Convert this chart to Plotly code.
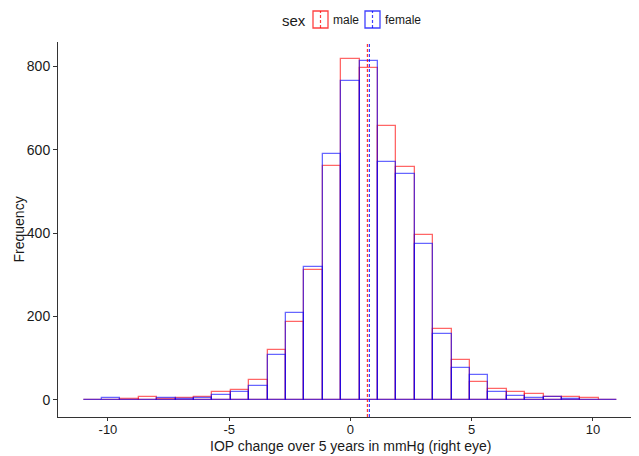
import plotly.graph_objects as go

# Histogram bins (29 bins spanning -11 .. 11)
bin_low = -11.0
bin_high = 11.0
n_bins = 29
bin_width = (bin_high - bin_low) / n_bins
bin_centers = [bin_low + (i + 0.5) * bin_width for i in range(n_bins)]

# Counts per bin
male_counts = [1, 1, 2, 6, 2, 5, 7, 19, 25, 48, 120, 186, 312, 562, 818,
               797, 658, 558, 396, 171, 95, 43, 27, 19, 14, 8, 8, 5, 1]
female_counts = [1, 4, 0, 1, 4, 2, 4, 11, 18, 34, 109, 209, 319, 591, 766,
                 813, 570, 543, 375, 158, 77, 59, 18, 10, 4, 6, 2, 1, 1]

# Group means (dashed lines)
male_mean = 0.70
female_mean = 0.78

groups = ["male", "female"]
x_ticks = [-10, -5, 0, 5, 10]
y_ticks = [0, 200, 400, 600, 800]

red = "rgba(255,0,0,0.6)"
blue = "rgba(0,0,255,0.6)"

# page body has an 8px margin; work in window pixels and convert
OFF = 8
W, H = 639 - OFF, 456 - OFF
ML, MR, MT, MB = 58 - OFF, 0, 42 - OFF, 39

fig = go.Figure()
fig.add_trace(go.Bar(
    x=bin_centers, y=male_counts, width=bin_width, name=groups[0],
    marker=dict(color="rgba(0,0,0,0)", line=dict(color=red, width=1.3)),
))
fig.add_trace(go.Bar(
    x=bin_centers, y=female_counts, width=bin_width, name=groups[1],
    marker=dict(color="rgba(0,0,0,0)", line=dict(color=blue, width=1.3)),
))

for m, c in [(male_mean, "rgba(255,0,0,0.8)"), (female_mean, "rgba(0,0,255,0.8)")]:
    fig.add_shape(type="line", xref="x", yref="paper", x0=m, x1=m, y0=0, y1=1,
                  line=dict(color=c, width=1.2, dash="3px,2px"))

# ---- custom legend (ggplot style), positions given in window pixels ----
pw = W - ML - MR
ph = H - MT - MB
def px(xp):
    return (xp - OFF - ML) / pw
def py(yp):
    return (H - MB - (yp - OFF)) / ph

fig.add_annotation(x=px(294), y=py(20), xref="paper", yref="paper", text="sex",
                   showarrow=False, font=dict(size=15, color="#1a1a1a"),
                   xanchor="center", yanchor="middle")
keys = [(313, 328, groups[0], "rgba(255,0,0,0.75)", 346),
        (365, 380, groups[1], "rgba(0,0,255,0.75)", 403)]
for x0, x1, lab, col, tx in keys:
    fig.add_shape(type="rect", xref="paper", yref="paper",
                  x0=px(x0), x1=px(x1), y0=py(28), y1=py(11),
                  line=dict(color=col, width=1.3), fillcolor="rgba(0,0,0,0)")
    xm = (x0 + x1) / 2
    fig.add_shape(type="line", xref="paper", yref="paper",
                  x0=px(xm), x1=px(xm), y0=py(28), y1=py(11),
                  line=dict(color=col, width=1.2, dash="3px,2px"))
    fig.add_annotation(x=px(tx), y=py(20), xref="paper", yref="paper", text=lab,
                       showarrow=False, font=dict(size=12, color="#1a1a1a"),
                       xanchor="center", yanchor="middle")

# axis titles
fig.add_annotation(x=px(350), y=py(446), xref="paper", yref="paper",
                   text="IOP change over 5 years in mmHg (right eye)", showarrow=False,
                   font=dict(size=14, color="#1a1a1a"), xanchor="center", yanchor="middle")
fig.add_annotation(x=px(18), y=0.5, xref="paper", yref="paper", text="Frequency",
                   textangle=-90, showarrow=False, font=dict(size=14, color="#1a1a1a"),
                   xanchor="center", yanchor="middle")

fig.update_layout(
    width=W, height=H,
    margin=dict(l=ML, r=MR, t=MT, b=MB, autoexpand=False),
    paper_bgcolor="white", plot_bgcolor="white",
    barmode="overlay", bargap=0,
    font=dict(family="Arial, Liberation Sans, sans-serif", color="black", size=14),
    showlegend=False,
    xaxis=dict(
        range=[-12.06, 11.9], tickvals=x_ticks, ticktext=[str(v) for v in x_ticks],
        showgrid=False, zeroline=False, showline=True, linecolor="#333333", linewidth=1,
        ticks="outside", ticklen=3, tickcolor="#333333", automargin=False,
        ticklabelstandoff=-3,
        tickfont=dict(size=13, color="#1a1a1a"),
    ),
    yaxis=dict(
        range=[-41, 859], tickvals=y_ticks, ticktext=[str(v) for v in y_ticks],
        showgrid=False, zeroline=False, showline=True, linecolor="#333333", linewidth=1,
        ticks="outside", ticklen=4, tickcolor="#333333", automargin=False,
        tickfont=dict(size=14, color="#1a1a1a"),
    ),
)

fig.write_html("out.html")
